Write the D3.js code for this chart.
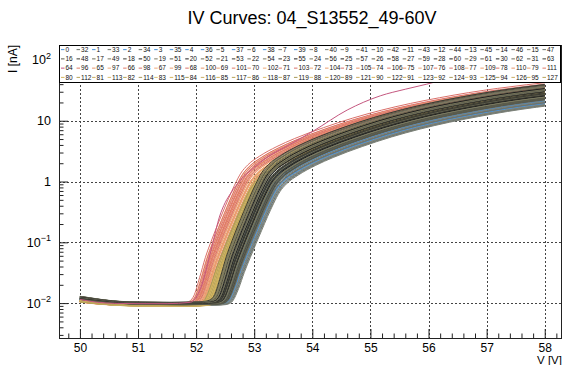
<!DOCTYPE html>
<html>
<head>
<meta charset="utf-8">
<script src="https://cdn.jsdelivr.net/npm/d3@7"></script>
<style>
body { margin: 0; background: #fff; }
svg { display: block; font-family: "Liberation Sans", Arial, sans-serif; }
</style>
</head>
<body>
<svg id="chart" width="563" height="365"></svg>
<script>
// typical channel (reaches 0.012 nA at ~52.27 V)
const templateVolts   = [49.5, 50.0, 50.3, 50.6, 51.0, 51.5, 51.9, 52.1, 52.2, 52.27, 52.37, 52.47, 52.57, 52.67, 52.77, 52.87, 52.97, 53.08, 53.2, 53.4, 53.7, 54.0, 54.5, 55.0, 55.5, 56.0, 56.5, 57.0, 57.5, 58.0, 58.5];
const templateCurrent = [0.0125, 0.0112, 0.0104, 0.0099, 0.0097, 0.0096, 0.0097, 0.0099, 0.0104, 0.012, 0.021, 0.042, 0.075, 0.13, 0.22, 0.37, 0.6, 0.95, 1.3, 1.8, 2.6, 3.5, 5.3, 7.6, 10.3, 13.3, 16.5, 20, 23.5, 27, 30.5];
const plateau = 0.0097;

// outlier channel 64 (pink curve on top)
const outlierChannel = 64;
const outlierVolts   = [50.0, 50.3, 50.6, 51.0, 51.5, 51.9, 52.0, 52.1, 52.2, 52.3, 52.4, 52.5, 52.6, 52.76, 53.0, 53.22, 53.6, 54.02, 54.6, 55.17, 55.6, 55.97, 56.36, 56.8, 57.3, 57.97];
const outlierCurrent = [0.0115, 0.0103, 0.0099, 0.0098, 0.0098, 0.0103, 0.0125, 0.02, 0.045, 0.11, 0.26, 0.45, 0.65, 1.05, 1.7, 2.5, 4.0, 6.8, 15, 25.7, 33, 40, 50, 62, 78, 100];

// per-channel onset shift [V], gain above breakdown and dark level [nA], channels 0..127
const onsetShift = [
  0.30, 0.26, 0.33, 0.23, 0.28, 0.20, 0.35, 0.25, 0.18, 0.31, 0.22, 0.27, 0.16, 0.29, 0.24, 0.32,
  0.20, 0.13, 0.26, 0.17, 0.10, 0.23, 0.15, 0.28, 0.08, 0.19, 0.12, 0.24, 0.16, 0.06, 0.21, 0.14,
  0.28, 0.21, 0.34, 0.17, 0.26, 0.30, 0.19, 0.23, 0.32, 0.15, 0.27, 0.22, 0.36, 0.18, 0.25, 0.29,
  0.18, 0.11, 0.22, 0.27, 0.14, 0.05, 0.20, 0.16, 0.25, 0.09, 0.18, 0.23, 0.13, 0.29, 0.15, 0.21,
  -0.32, -0.25, -0.15, -0.29, -0.11, -0.21, -0.07, -0.24, -0.13, -0.31, -0.05, -0.19, -0.10, -0.27, -0.08, -0.17,
  -0.03, 0.03, -0.08, 0.07, 0.00, -0.11, -0.05, 0.05, -0.01, -0.09, 0.09, -0.04, 0.02, -0.07, -0.02, 0.06,
  -0.22, -0.12, -0.28, -0.16, -0.09, -0.20, -0.06, -0.26, -0.14, -0.10, -0.23, -0.04, -0.18, -0.13, -0.07, -0.21,
  0.01, -0.06, 0.08, -0.02, -0.10, 0.04, -0.04, 0.00, -0.08, 0.07, -0.03, 0.02, -0.12, -0.01, 0.05, -0.06
];
const gainFactor = [
  0.78, 0.85, 0.74, 0.90, 0.80, 0.95, 0.72, 0.88, 1.00, 0.76, 0.92, 0.83, 1.05, 0.79, 0.87, 0.75,
  1.10, 1.30, 0.95, 1.20, 1.45, 1.00, 1.25, 0.90, 1.50, 1.05, 1.35, 0.98, 1.15, 1.40, 1.02, 1.22,
  0.80, 0.93, 0.73, 1.02, 0.84, 0.77, 0.97, 0.89, 0.74, 1.06, 0.82, 0.91, 0.71, 0.99, 0.86, 0.79,
  1.12, 1.38, 1.00, 0.92, 1.28, 1.48, 1.05, 1.18, 0.94, 1.42, 1.08, 0.97, 1.30, 0.90, 1.20, 1.03,
  1.40, 1.25, 1.05, 1.35, 1.00, 1.20, 0.95, 1.30, 1.10, 1.45, 0.92, 1.15, 1.02, 1.33, 0.98, 1.12,
  1.05, 1.15, 0.95, 1.20, 1.00, 0.90, 1.10, 1.25, 0.98, 0.88, 1.18, 1.03, 1.12, 0.92, 1.08, 1.22,
  1.22, 1.08, 1.38, 1.12, 0.96, 1.18, 0.93, 1.32, 1.06, 1.00, 1.28, 0.90, 1.15, 1.04, 0.97, 1.24,
  1.10, 0.96, 1.20, 1.02, 0.90, 1.16, 1.06, 0.93, 1.13, 1.24, 0.99, 1.08, 0.87, 1.19, 1.01, 0.94
];
const darkLevel = [
  0.0095, 0.0097, 0.0094, 0.0098, 0.0096, 0.0099, 0.0093, 0.0097, 0.0100, 0.0095, 0.0098, 0.0096, 0.0101, 0.0094, 0.0097, 0.0095,
  0.0099, 0.0102, 0.0096, 0.0100, 0.0103, 0.0097, 0.0101, 0.0095, 0.0104, 0.0098, 0.0102, 0.0096, 0.0100, 0.0103, 0.0097, 0.0099,
  0.0096, 0.0098, 0.0093, 0.0099, 0.0095, 0.0094, 0.0098, 0.0097, 0.0093, 0.0100, 0.0096, 0.0097, 0.0092, 0.0099, 0.0096, 0.0095,
  0.0100, 0.0102, 0.0097, 0.0096, 0.0101, 0.0104, 0.0098, 0.0100, 0.0096, 0.0103, 0.0099, 0.0097, 0.0101, 0.0095, 0.0100, 0.0098,
  0.0098, 0.0096, 0.0094, 0.0097, 0.0093, 0.0095, 0.0092, 0.0096, 0.0094, 0.0098, 0.0092, 0.0095, 0.0093, 0.0097, 0.0092, 0.0094,
  0.0093, 0.0091, 0.0094, 0.0090, 0.0092, 0.0095, 0.0093, 0.0090, 0.0092, 0.0094, 0.0089, 0.0093, 0.0091, 0.0094, 0.0092, 0.0090,
  0.0096, 0.0094, 0.0098, 0.0095, 0.0093, 0.0096, 0.0092, 0.0097, 0.0094, 0.0093, 0.0096, 0.0091, 0.0095, 0.0094, 0.0092, 0.0096,
  0.0091, 0.0093, 0.0090, 0.0092, 0.0094, 0.0090, 0.0093, 0.0091, 0.0094, 0.0089, 0.0092, 0.0091, 0.0095, 0.0092, 0.0090, 0.0093
];

// legend layout, 4 rows x 32 columns
const legendRows = [
  [0, 32, 1, 33, 2, 34, 3, 35, 4, 36, 5, 37, 6, 38, 7, 39, 8, 40, 9, 41, 10, 42, 11, 43, 12, 44, 13, 45, 14, 46, 15, 47],
  [16, 48, 17, 49, 18, 50, 19, 51, 20, 52, 21, 53, 22, 54, 23, 55, 24, 56, 25, 57, 26, 58, 27, 59, 28, 60, 29, 61, 30, 62, 31, 63],
  [64, 96, 65, 97, 66, 98, 67, 99, 68, 100, 69, 101, 70, 102, 71, 103, 72, 104, 73, 105, 74, 106, 75, 107, 76, 108, 77, 109, 78, 110, 79, 111],
  [80, 112, 81, 113, 82, 114, 83, 115, 84, 116, 85, 117, 86, 118, 87, 119, 88, 120, 89, 121, 90, 122, 91, 123, 92, 124, 93, 125, 94, 126, 95, 127]
];

const xMajorTicks = [50, 51, 52, 53, 54, 55, 56, 57, 58];
const yMajorTicks = [0.01, 0.1, 1, 10, 100];
const yTickLabels = [["10", "-2"], ["10", "-1"], ["1", ""], ["10", ""], ["10", "2"]];

const title = "IV Curves: 04_S13552_49-60V";

// colours per channel group
const palettes = {
  A: ["#4a93da", "#7b8078", "#6c7470", "#8a8a78", "#5f6a72", "#7c7c6c", "#6a6f66"],
  B: ["#1e1e1e", "#5c5c4c", "#6e6e5a", "#3a3a32", "#7a7a62", "#4e4e44"],
  C: ["#e8956a", "#e07a66", "#f0aa78", "#d9706a", "#eb9f6e", "#e48a70"],
  D: ["#d4b45c", "#c9ad62", "#b8a458", "#dcc070", "#a89a58", "#c4b068"]
};
const outlierColor = "#c4577f";

function groupOf(c) {
  if (c < 64) return (c % 32 < 16) ? "A" : "B";
  return (c % 32 < 16) ? "C" : "D";
}
function colorOf(c) {
  if (c === outlierChannel) return outlierColor;
  const p = palettes[groupOf(c)];
  return p[(c * 7 + Math.floor(c / 5)) % p.length];
}

const frame = {left: 59, right: 561, top: 45, bottom: 338};
const svg = d3.select("#chart");

const x = d3.scaleLinear().domain([49.64, 58.28]).range([frame.left, frame.right]);
const y = d3.scaleLog().domain([Math.pow(10, -2.574), Math.pow(10, 2.246)]).range([frame.bottom, frame.top]);

// title
svg.append("text")
  .attr("x", 312).attr("y", 24)
  .attr("text-anchor", "middle")
  .style("font-size", "18px")
  .text(title);

// grid
const grid = svg.append("g")
  .attr("stroke", "#444").attr("stroke-width", 1).attr("stroke-dasharray", "2,2");
grid.selectAll("line.v").data(xMajorTicks).enter().append("line")
  .attr("x1", d => Math.round(x(d)) + 0.5).attr("x2", d => Math.round(x(d)) + 0.5)
  .attr("y1", frame.top).attr("y2", frame.bottom);
grid.selectAll("line.h").data(yMajorTicks).enter().append("line")
  .attr("y1", d => Math.round(y(d)) + 0.5).attr("y2", d => Math.round(y(d)) + 0.5)
  .attr("x1", frame.left).attr("x2", frame.right);

// curves
svg.append("defs").append("clipPath").attr("id", "plotclip")
  .append("rect")
  .attr("x", x(50)).attr("y", frame.top)
  .attr("width", x(58) - x(50)).attr("height", frame.bottom - frame.top);

const line = d3.line()
  .x(d => x(d[0]))
  .y(d => y(d[1]))
  .curve(d3.curveMonotoneX);

function channelPoints(c) {
  if (c === outlierChannel) return outlierVolts.map((v, i) => [v, outlierCurrent[i]]);
  const r = darkLevel[c] / plateau, g = gainFactor[c];
  return templateVolts.map((v, i) => {
    const t = templateCurrent[i];
    return [v + onsetShift[c], r * t + (g - r) * Math.max(t - plateau, 0)];
  });
}

const drawOrder = [];
["A", "C", "D", "B"].forEach(g => {
  d3.range(128).forEach(c => { if (groupOf(c) === g && c !== outlierChannel) drawOrder.push(c); });
});
drawOrder.push(outlierChannel);

svg.append("g").attr("clip-path", "url(#plotclip)")
  .selectAll("path").data(drawOrder).enter().append("path")
  .attr("d", c => line(channelPoints(c)))
  .attr("fill", "none")
  .attr("stroke", c => colorOf(c))
  .attr("stroke-width", 1);

// axes (ROOT style, ticks inside the frame)
const axisColor = "#222";
const gx = svg.append("g").attr("transform", "translate(0," + frame.bottom + ")");
gx.call(d3.axisBottom(x).tickValues(xMajorTicks).tickSize(-9).tickSizeOuter(0).tickPadding(5).tickFormat(d3.format("d")));
const gxMinor = svg.append("g").attr("transform", "translate(0," + frame.bottom + ")");
gxMinor.call(d3.axisBottom(x).tickValues(x.ticks(40).filter(v => xMajorTicks.indexOf(Math.round(v * 10) / 10) < 0)).tickSize(-4.5).tickSizeOuter(0).tickFormat(""));
gxMinor.select(".domain").remove();

const gy = svg.append("g").attr("transform", "translate(" + frame.left + ",0)");
gy.call(d3.axisLeft(y).tickValues(yMajorTicks).tickSize(-9).tickSizeOuter(0).tickFormat(""));
const yMinor = y.ticks().filter(v => {
  const l = Math.log10(v);
  return Math.abs(l - Math.round(l)) > 1e-6;
});
const gyMinor = svg.append("g").attr("transform", "translate(" + frame.left + ",0)");
gyMinor.call(d3.axisLeft(y).tickValues(yMinor).tickSize(-4.5).tickSizeOuter(0).tickFormat(""));
gyMinor.select(".domain").remove();

[gx, gxMinor, gy, gyMinor].forEach(g => {
  g.selectAll("line, path").attr("stroke", axisColor);
  g.selectAll("text").attr("fill", "#000").style("font-size", "12px").style("font-family", "Liberation Sans, Arial, sans-serif");
});

// y tick labels with exponents
const yLabels = svg.append("g").style("font-size", "12.5px");
yMajorTicks.forEach((v, i) => {
  const t = yLabels.append("text")
    .attr("x", 51).attr("y", y(v) + 4.5)
    .attr("text-anchor", "end");
  t.append("tspan").text(yTickLabels[i][0]);
  if (yTickLabels[i][1]) {
    t.append("tspan").attr("dy", -5.5).style("font-size", "9px")
      .text(yTickLabels[i][1].replace("-", "\u2212"));
  }
});

// frame
svg.append("rect")
  .attr("x", frame.left + 0.5).attr("y", frame.top + 0.5)
  .attr("width", frame.right - frame.left).attr("height", frame.bottom - frame.top)
  .attr("fill", "none").attr("stroke", axisColor);

// axis titles
svg.append("text")
  .attr("x", 562).attr("y", 364)
  .attr("text-anchor", "end")
  .style("font-size", "11.5px")
  .text("V [V]");
svg.append("text")
  .attr("transform", "translate(17," + frame.top + ") rotate(-90)")
  .attr("text-anchor", "end")
  .style("font-size", "12px")
  .text("I [nA]");

// legend
const legend = {left: 59, right: 560, top: 45, bottom: 82};
const lg = svg.append("g");
lg.append("rect")
  .attr("x", legend.left + 0.5).attr("y", legend.top + 0.5)
  .attr("width", legend.right - legend.left).attr("height", legend.bottom - legend.top)
  .attr("fill", "#fff").attr("stroke", "#000");
const colW = (legend.right - legend.left - 4) / 32;
const rowH = (legend.bottom - legend.top) / 4;
legendRows.forEach((row, r) => {
  const cy = legend.top + rowH * (r + 0.5);
  row.forEach((c, j) => {
    const cx = legend.left + 2 + j * colW;
    lg.append("line")
      .attr("x1", cx).attr("x2", cx + 3.5)
      .attr("y1", cy).attr("y2", cy)
      .attr("stroke", colorOf(c)).attr("stroke-width", 1);
    lg.append("text")
      .attr("x", cx + 4.5).attr("y", cy + 2.2)
      .style("font-size", "6.5px")
      .attr("fill", "#111")
      .text(c);
  });
});
</script>
</body>
</html>
